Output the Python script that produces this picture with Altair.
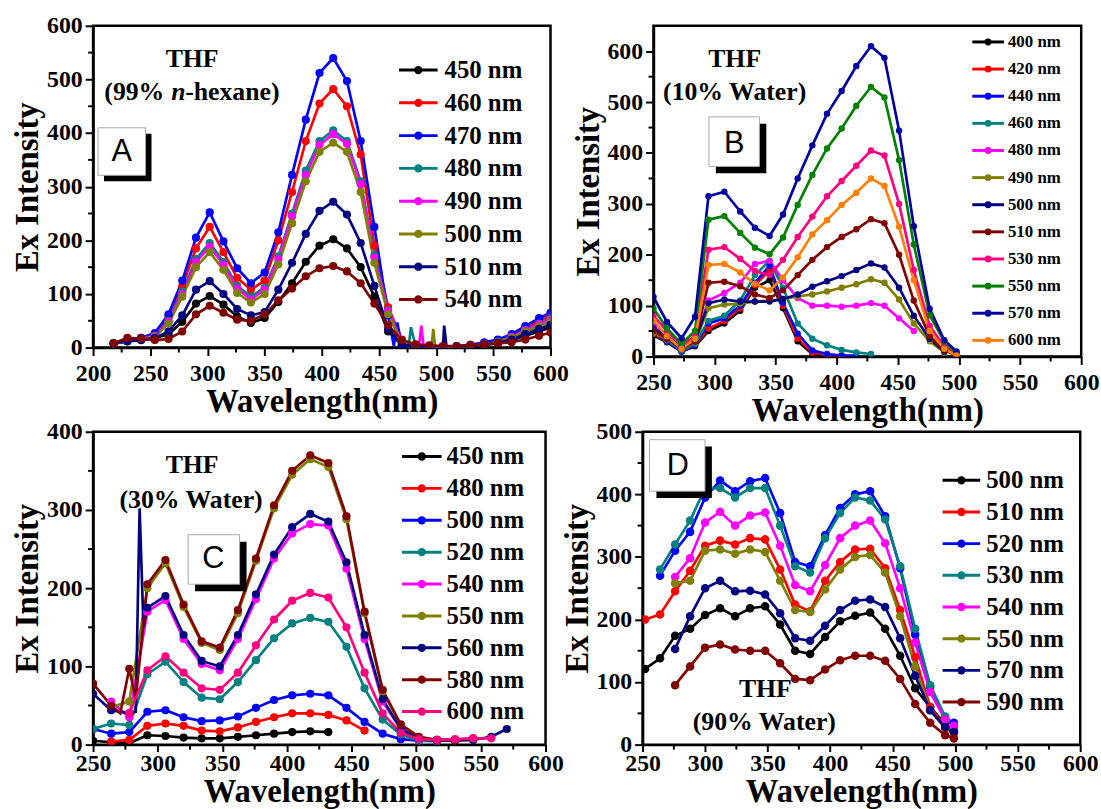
import altair as alt
import pandas as pd

SERIF = "Liberation Serif"
SANS = "Liberation Sans"
N = None

# ---------------- Panel A : THF (99% n-hexane) ----------------
a_wl = [218, 230, 242, 254, 266, 278, 290, 302, 314, 326, 338, 350, 362, 374, 386, 398,
        410, 422, 434, 446, 458, 470, 482, 494, 506, 518, 530, 542, 554, 566, 578, 590, 600]
a_names = ["450 nm", "460 nm", "470 nm", "480 nm", "490 nm", "500 nm", "510 nm", "540 nm"]
a_colors = ["#000000", "#FF0000", "#0000FF", "#008080", "#FF00FF", "#808000", "#000080", "#800000"]
a_450 = [8, 12, 14, 18, 25, 48, 82, 96, 80, 58, 46, 55, 85, 120, 160, 190, 202, 185, 150, 95, 30, 5,
         3, 2, 2, 2, 3, 5, 8, 14, 22, 30, 38]
a_460 = [8, 12, 18, 25, 58, 115, 185, 225, 178, 130, 108, 125, 200, 290, 385, 455, 482, 450, 360, 190, 75, 15,
         3, 2, 2, 2, 3, 7, 12, 22, 36, 50, 60]
a_470 = [7, 12, 18, 27, 62, 125, 205, 252, 198, 148, 120, 140, 215, 322, 425, 512, 540, 497, 385, 225, 60, 3,
         2, 2, 2, 3, 5, 10, 15, 25, 40, 55, 65]
a_480 = [8, 12, 16, 22, 50, 105, 165, 195, 160, 115, 95, 112, 170, 250, 330, 385, 405, 385, 310, 172, 70, 10,
         3, 2, 2, 2, 3, 6, 11, 20, 33, 45, 55]
a_490 = [8, 12, 16, 22, 48, 100, 160, 188, 155, 110, 90, 108, 165, 245, 322, 378, 398, 380, 305, 168, 68, 10,
         3, 2, 2, 2, 3, 6, 10, 20, 32, 44, 52]
a_500 = [8, 12, 15, 20, 45, 95, 150, 178, 145, 102, 84, 100, 155, 232, 310, 365, 382, 365, 290, 158, 62, 8,
         3, 2, 2, 2, 3, 5, 10, 18, 30, 40, 48]
a_510 = [8, 12, 14, 18, 30, 60, 108, 124, 100, 72, 60, 66, 108, 158, 212, 255, 272, 248, 195, 115, 35, 5,
         3, 2, 2, 2, 3, 5, 9, 15, 25, 35, 42]
a_540 = [8, 18, 17, 14, 16, 30, 62, 78, 65, 52, 50, 62, 88, 110, 133, 148, 152, 142, 120, 82, 42, 14,
         6, 4, 3, 3, 5, 6, 8, 10, 15, 22, 28]
# narrow spikes just past the main band (line only, no markers)
a_spike_series = ["470 nm", "470 nm", "480 nm", "480 nm", "490 nm", "490 nm", "490 nm",
                  "500 nm", "500 nm", "500 nm", "510 nm", "510 nm", "510 nm"]
a_spike_wl = [463, 466, 476, 478, 485, 487, 489, 496, 497.5, 499, 505, 507, 509]
a_spike_val = [3, 47, 3, 38, 3, 41, 3, 3, 35, 3, 3, 41, 3]

# ---------------- Panel B : THF (10% Water) ----------------
b_wl = [250, 261, 273, 284, 295, 308, 321, 333, 345, 356, 368, 380, 392, 404, 416, 428,
        439, 451, 463, 476, 488, 498]
b_names = ["400 nm", "420 nm", "440 nm", "460 nm", "480 nm", "490 nm", "500 nm", "510 nm",
           "530 nm", "550 nm", "570 nm", "600 nm"]
b_colors = ["#000000", "#FF0000", "#0000FF", "#008080", "#FF00FF", "#808000", "#000080", "#800000",
            "#FF0080", "#008000", "#0000A0", "#FF8000"]
b_400 = [42, 28, 10, 20, 50, 65, 90, 135, 150, 95, 30, 5, 2, 1, N, N, N, N, N, N, N, N]
b_420 = [45, 30, 10, 22, 55, 70, 95, 140, 170, 100, 35, 8, 3, 1, N, N, N, N, N, N, N, N]
b_440 = [48, 30, 10, 22, 65, 75, 100, 145, 178, 105, 45, 12, 5, 2, 2, N, N, N, N, N, N, N]
b_460 = [50, 32, 12, 25, 70, 80, 110, 160, 188, 135, 65, 35, 22, 13, 8, 5, N, N, N, N, N, N]
b_480 = [60, 40, 18, 30, 110, 125, 145, 182, 188, 150, 115, 100, 100, 98, 100, 105, 100, 75, 50, N, N, N]
b_490 = [45, 35, 15, 28, 95, 102, 104, 108, 110, 113, 118, 122, 128, 135, 142, 152, 145, 112, 65, 30, 8, N]
b_500 = [55, 40, 20, 30, 105, 112, 108, 108, 108, 113, 122, 137, 148, 158, 170, 183, 175, 135, 80, 35, 10, N]
b_510 = [50, 35, 15, 30, 145, 147, 138, 122, 115, 130, 160, 190, 215, 235, 250, 270, 262, 200, 110, 40, 12, 2]
b_530 = [80, 50, 22, 40, 210, 215, 192, 168, 160, 190, 235, 275, 315, 345, 375, 405, 395, 300, 170, 60, 20, 5]
b_550 = [95, 55, 25, 50, 269, 276, 243, 214, 201, 234, 298, 357, 409, 448, 493, 530, 509, 386, 220, 81, 29, 6]
b_570 = [117, 68, 36, 78, 315, 324, 285, 253, 237, 279, 350, 415, 477, 522, 571, 610, 587, 444, 256, 94, 32, 10]
b_600 = [70, 40, 15, 35, 180, 182, 165, 143, 130, 155, 195, 240, 268, 298, 322, 350, 335, 255, 150, 50, 15, 2]

# ---------------- Panel C : THF (30% Water) ----------------
c_wl = [250, 264, 278, 292, 306, 320, 334, 348, 362, 376, 390, 404, 418, 432, 446, 460,
        474, 488, 502, 516, 530, 544, 558, 570]
c_names = ["450 nm", "480 nm", "500 nm", "520 nm", "540 nm", "550 nm", "560 nm", "580 nm", "600 nm"]
c_colors = ["#000000", "#FF0000", "#0000FF", "#008080", "#FF00FF", "#808000", "#000080", "#800000", "#FF0080"]
c_450 = [5, 3, 2, 12, 11, 9, 8, 8, 10, 12, 14, 16, 17, 16, N, N, N, N, N, N, N, N, N, N]
c_480 = [N, 4, 6, 24, 27, 24, 18, 17, 22, 29, 35, 40, 40, 38, 31, 18, N, N, N, N, N, N, N, N]
c_500 = [20, 14, 16, 42, 44, 35, 30, 31, 36, 47, 57, 63, 65, 63, 47, 29, 14, 7, 5, 5, N, N, N, N]
c_520 = [20, 27, 25, 90, 106, 80, 60, 58, 80, 108, 136, 155, 162, 157, 125, 72, 32, 13, 5, 4, N, N, N, N]
c_540 = [N, 55, 35, 170, 185, 135, 103, 95, 135, 186, 238, 270, 282, 280, 225, 135, 55, 20, 8, 6, 6, 7, N, N]
c_550 = [N, 48, 55, 200, 232, 176, 130, 121, 168, 235, 302, 345, 365, 355, 288, 168, 68, 25, 9, 5, 5, N, N, N]
c_560 = [65, 44, 40, 175, 190, 140, 107, 100, 140, 192, 243, 278, 295, 285, 233, 140, 58, 20, 7, 5, 5, 6, 10, 20]
c_580 = [78, 50, 97, 205, 236, 179, 132, 124, 172, 238, 306, 350, 370, 360, 292, 170, 70, 26, 10, 6, 6, 8, N, N]
c_600 = [N, N, 40, 95, 113, 92, 72, 70, 92, 127, 160, 184, 194, 188, 150, 92, 40, 15, 7, 6, 7, 8, 8, N]
c_spike_series = ["560 nm", "560 nm", "560 nm", "580 nm", "580 nm"]
c_spike_wl = [283, 286, 289, 271, 283]
c_spike_val = [42, 302, 150, 40, 58]

# ---------------- Panel D : THF (90% Water) ----------------
d_wl = [252, 264, 276, 288, 300, 312, 324, 336, 348, 360, 372, 384, 396, 408, 420, 432,
        444, 456, 468, 480, 492, 499]
d_names = ["500 nm", "510 nm", "520 nm", "530 nm", "540 nm", "550 nm", "570 nm", "590 nm"]
d_colors = ["#000000", "#FF0000", "#0000FF", "#008080", "#FF00FF", "#808000", "#000080", "#800000"]
d_500 = [121, 138, 174, 185, 207, 218, 205, 218, 221, 192, 150, 145, 172, 197, 206, 211, 185, 142, 90, 60, 33, 22]
d_510 = [200, 208, 245, 278, 318, 326, 320, 330, 328, 280, 224, 213, 262, 292, 312, 313, 282, 215, 140, 60, 28, 20]
d_520 = [N, 270, 310, 340, 395, 422, 405, 421, 426, 370, 292, 285, 335, 378, 400, 405, 365, 282, 176, 92, 42, 35]
d_530 = [N, 280, 320, 358, 410, 410, 395, 410, 410, 350, 285, 275, 330, 370, 395, 390, 360, 285, 185, 95, 45, 28]
d_540 = [N, N, 268, 298, 355, 372, 350, 366, 371, 318, 255, 245, 287, 330, 350, 358, 322, 250, 163, 84, 40, 30]
d_550 = [N, N, 258, 262, 310, 312, 305, 312, 308, 262, 215, 212, 248, 280, 300, 303, 275, 205, 125, 55, 26, 18]
d_570 = [N, N, 153, 205, 250, 262, 245, 246, 240, 210, 170, 166, 190, 215, 230, 232, 220, 170, 110, 55, 28, 20]
d_590 = [N, N, 95, 125, 155, 160, 152, 150, 150, 130, 105, 103, 120, 135, 142, 142, 134, 105, 65, 35, 15, 10]

# axis ticks
x_ticks_a = [200, 250, 300, 350, 400, 450, 500, 550, 600]
x_minor_a = [225, 275, 325, 375, 425, 475, 525, 575]
x_ticks = [250, 300, 350, 400, 450, 500, 550, 600]
x_minor = [275, 325, 375, 425, 475, 525, 575]


def long_frame(wl, names, table, sp_series=(), sp_wl=(), sp_val=()):
    rows = []
    for name, vals in zip(names, table):
        for w, v in zip(wl, vals):
            if v is not None:
                rows.append((name, w, v, True))
    for name, w, v in zip(sp_series, sp_wl, sp_val):
        rows.append((name, w, v, False))
    return pd.DataFrame(rows, columns=["series", "wl", "val", "marker"])


def one(text):
    return alt.Chart(pd.DataFrame({"t": [text]}))


def build_panel(df, names, colors, xdom, xticks, xminor, ydom, yticks, yminor,
                w, h, dot, leg, notes, box, xlab_pad=6, xtitle_pad=1, xtick=8):
    xs = alt.Scale(domain=xdom, nice=False, zero=False)
    ys = alt.Scale(domain=ydom, nice=False, zero=False)
    cs = alt.Scale(domain=names, range=colors)
    xax = alt.Axis(values=xticks, title="Wavelength(nm)", labelFlush=False, labelOverlap=False,
                   labelPadding=xlab_pad, titlePadding=xtitle_pad, tickSize=xtick)
    yax = alt.Axis(values=yticks, title="Ex Intensity", labelOverlap=False)
    col = alt.Color("series:N", scale=cs, legend=None)
    xenc = alt.X("wl:Q", scale=xs, axis=xax)
    yenc = alt.Y("val:Q", scale=ys, axis=yax)

    base = alt.Chart(df)
    lines = base.mark_line(strokeWidth=2.7, clip=True).encode(
        x=xenc, y=yenc, color=col, order="wl:Q")
    pts = base.transform_filter("datum.marker").mark_circle(size=dot, opacity=1, clip=True).encode(
        x=xenc, y=yenc, color=col)

    # minor ticks on the bottom and left axes
    xm = alt.Chart(pd.DataFrame({"wl": xminor})).mark_rule(color="black", strokeWidth=2).encode(
        x=xenc, y=alt.value(h), y2=alt.value(h + 5))
    ym = alt.Chart(pd.DataFrame({"val": yminor})).mark_rule(color="black", strokeWidth=2).encode(
        y=yenc, x=alt.value(0), x2=alt.value(-5))

    # panel letter in a shadowed box
    bx1, by1, bx2, by2, off, letter, lx, ly = box
    shadow = one("s").mark_rect(color="black").encode(
        x=alt.value(bx1 + off), x2=alt.value(bx2 + off), y=alt.value(by1 + off), y2=alt.value(by2 + off))
    frame = one("f").mark_rect(fill="white", stroke="#a8a8a8", strokeWidth=1).encode(
        x=alt.value(bx1), x2=alt.value(bx2), y=alt.value(by1), y2=alt.value(by2))
    ltxt = one(letter).mark_text(font=SANS, fontSize=31, align="center", baseline="middle",
                                 color="black").encode(text="t:N", x=alt.value(lx), y=alt.value(ly))

    layers = [lines, pts, xm, ym, shadow, frame, ltxt]

    # solvent annotation
    for text, tx, ty, align, style in notes:
        layers.append(one(text).mark_text(font=SERIF, fontSize=26, fontWeight="bold", fontStyle=style,
                                          align=align, baseline="middle", color="black")
                      .encode(text="t:N", x=alt.value(tx), y=alt.value(ty)))

    # legend: line segment + dot + label for each series
    for i, name in enumerate(names):
        ly_px = leg["y0"] + i * leg["dy"]
        row = alt.Chart(pd.DataFrame({"series": [name]}))
        layers.append(row.mark_rule(strokeWidth=3).encode(
            x=alt.value(leg["x1"]), x2=alt.value(leg["x2"]), y=alt.value(ly_px), color=col))
        layers.append(row.mark_circle(size=leg["dot"], opacity=1).encode(
            x=alt.value(leg["cx"]), y=alt.value(ly_px), color=col))
        layers.append(row.mark_text(font=SERIF, fontSize=leg["fs"], fontWeight="bold", align="left",
                                    baseline="middle", color="black").encode(
            x=alt.value(leg["tx"]), y=alt.value(ly_px), text="series:N"))

    return alt.layer(*layers).properties(width=w, height=h)


df_a = long_frame(a_wl, a_names, [a_450, a_460, a_470, a_480, a_490, a_500, a_510, a_540],
                  a_spike_series, a_spike_wl, a_spike_val)
df_b = long_frame(b_wl, b_names, [b_400, b_420, b_440, b_460, b_480, b_490, b_500, b_510,
                                  b_530, b_550, b_570, b_600])
df_c = long_frame(c_wl, c_names, [c_450, c_480, c_500, c_520, c_540, c_550, c_560, c_580, c_600],
                  c_spike_series, c_spike_wl, c_spike_val)
df_d = long_frame(d_wl, d_names, [d_500, d_510, d_520, d_530, d_540, d_550, d_570, d_590])

panel_a = build_panel(
    df_a, a_names, a_colors, [200, 600], x_ticks_a, x_minor_a,
    [0, 600], [0, 100, 200, 300, 400, 500, 600], [50, 150, 250, 350, 450, 550],
    462, 325, 68,
    dict(y0=44.7, dy=33.1, x1=309, x2=348, cx=328.5, tx=355, fs=25, dot=70),
    [("THF", 100, 34, "center", "normal"),
     ("(99%", 72, 67, "right", "normal"),
     ("n", 79, 67, "left", "italic"),
     ("-hexane)", 93, 67, "left", "normal")],
    (5, 103, 53, 151, 6, "A", 29, 128),
)
panel_b = build_panel(
    df_b, b_names, b_colors, [250, 600], x_ticks, x_minor,
    [0, 650], [0, 100, 200, 300, 400, 500, 600], [50, 150, 250, 350, 450, 550],
    432, 334, 42,
    dict(y0=16.3, dy=27.4, x1=322, x2=354, cx=338, tx=358, fs=17, dot=48),
    [("THF", 82, 34, "center", "normal"),
     ("(10% Water)", 82, 67, "center", "normal")],
    (56, 92, 107, 142, 7, "B", 81.5, 119),
)
panel_c = build_panel(
    df_c, c_names, c_colors, [250, 600], x_ticks, x_minor,
    [0, 400], [0, 100, 200, 300, 400], [50, 150, 250, 350],
    457, 316, 68,
    dict(y0=25, dy=32.2, x1=312, x2=352, cx=332, tx=357, fs=25, dot=70),
    [("THF", 100, 34, "center", "normal"),
     ("(30% Water)", 99, 69, "center", "normal")],
    (96, 104, 148, 154, 7, "C", 121.5, 129),
    xlab_pad=0, xtitle_pad=0, xtick=7,
)
panel_d = build_panel(
    df_d, d_names, d_colors, [250, 600], x_ticks, x_minor,
    [0, 500], [0, 100, 200, 300, 400, 500], [50, 150, 250, 350, 450],
    442, 316, 74,
    dict(y0=49, dy=32, x1=303, x2=341, cx=322, tx=347, fs=25, dot=70),
    [("THF", 124, 260, "center", "normal"),
     ("(90% Water)", 123, 293, "center", "normal")],
    (7, 8, 63, 60, 7, "D", 35.5, 35),
    xlab_pad=0, xtitle_pad=0, xtick=7,
)

row1 = alt.hconcat(panel_a, panel_b, spacing=0).resolve_scale(color="independent")
row2 = alt.hconcat(panel_c, panel_d, spacing=-6).resolve_scale(color="independent")

chart = (
    alt.vconcat(row1, row2, spacing=-12)
    .resolve_scale(color="independent")
    .properties(padding={"left": 10, "top": 8, "right": 0, "bottom": 0}, background="white")
    .configure_view(stroke="black", strokeWidth=2.5)
    .configure_axis(
        labelFont=SERIF, labelFontSize=24, labelFontWeight="bold", labelColor="black",
        titleFont=SERIF, titleFontSize=33, titleFontWeight="bold", titleColor="black",
        domainColor="black", domainWidth=2.5, tickColor="black", tickWidth=2, tickSize=8,
        grid=False,
    )
    .configure_axisY(labelPadding=3, titlePadding=2)
)

chart.save("out.html", embed_options={"renderer": "svg", "actions": False})
